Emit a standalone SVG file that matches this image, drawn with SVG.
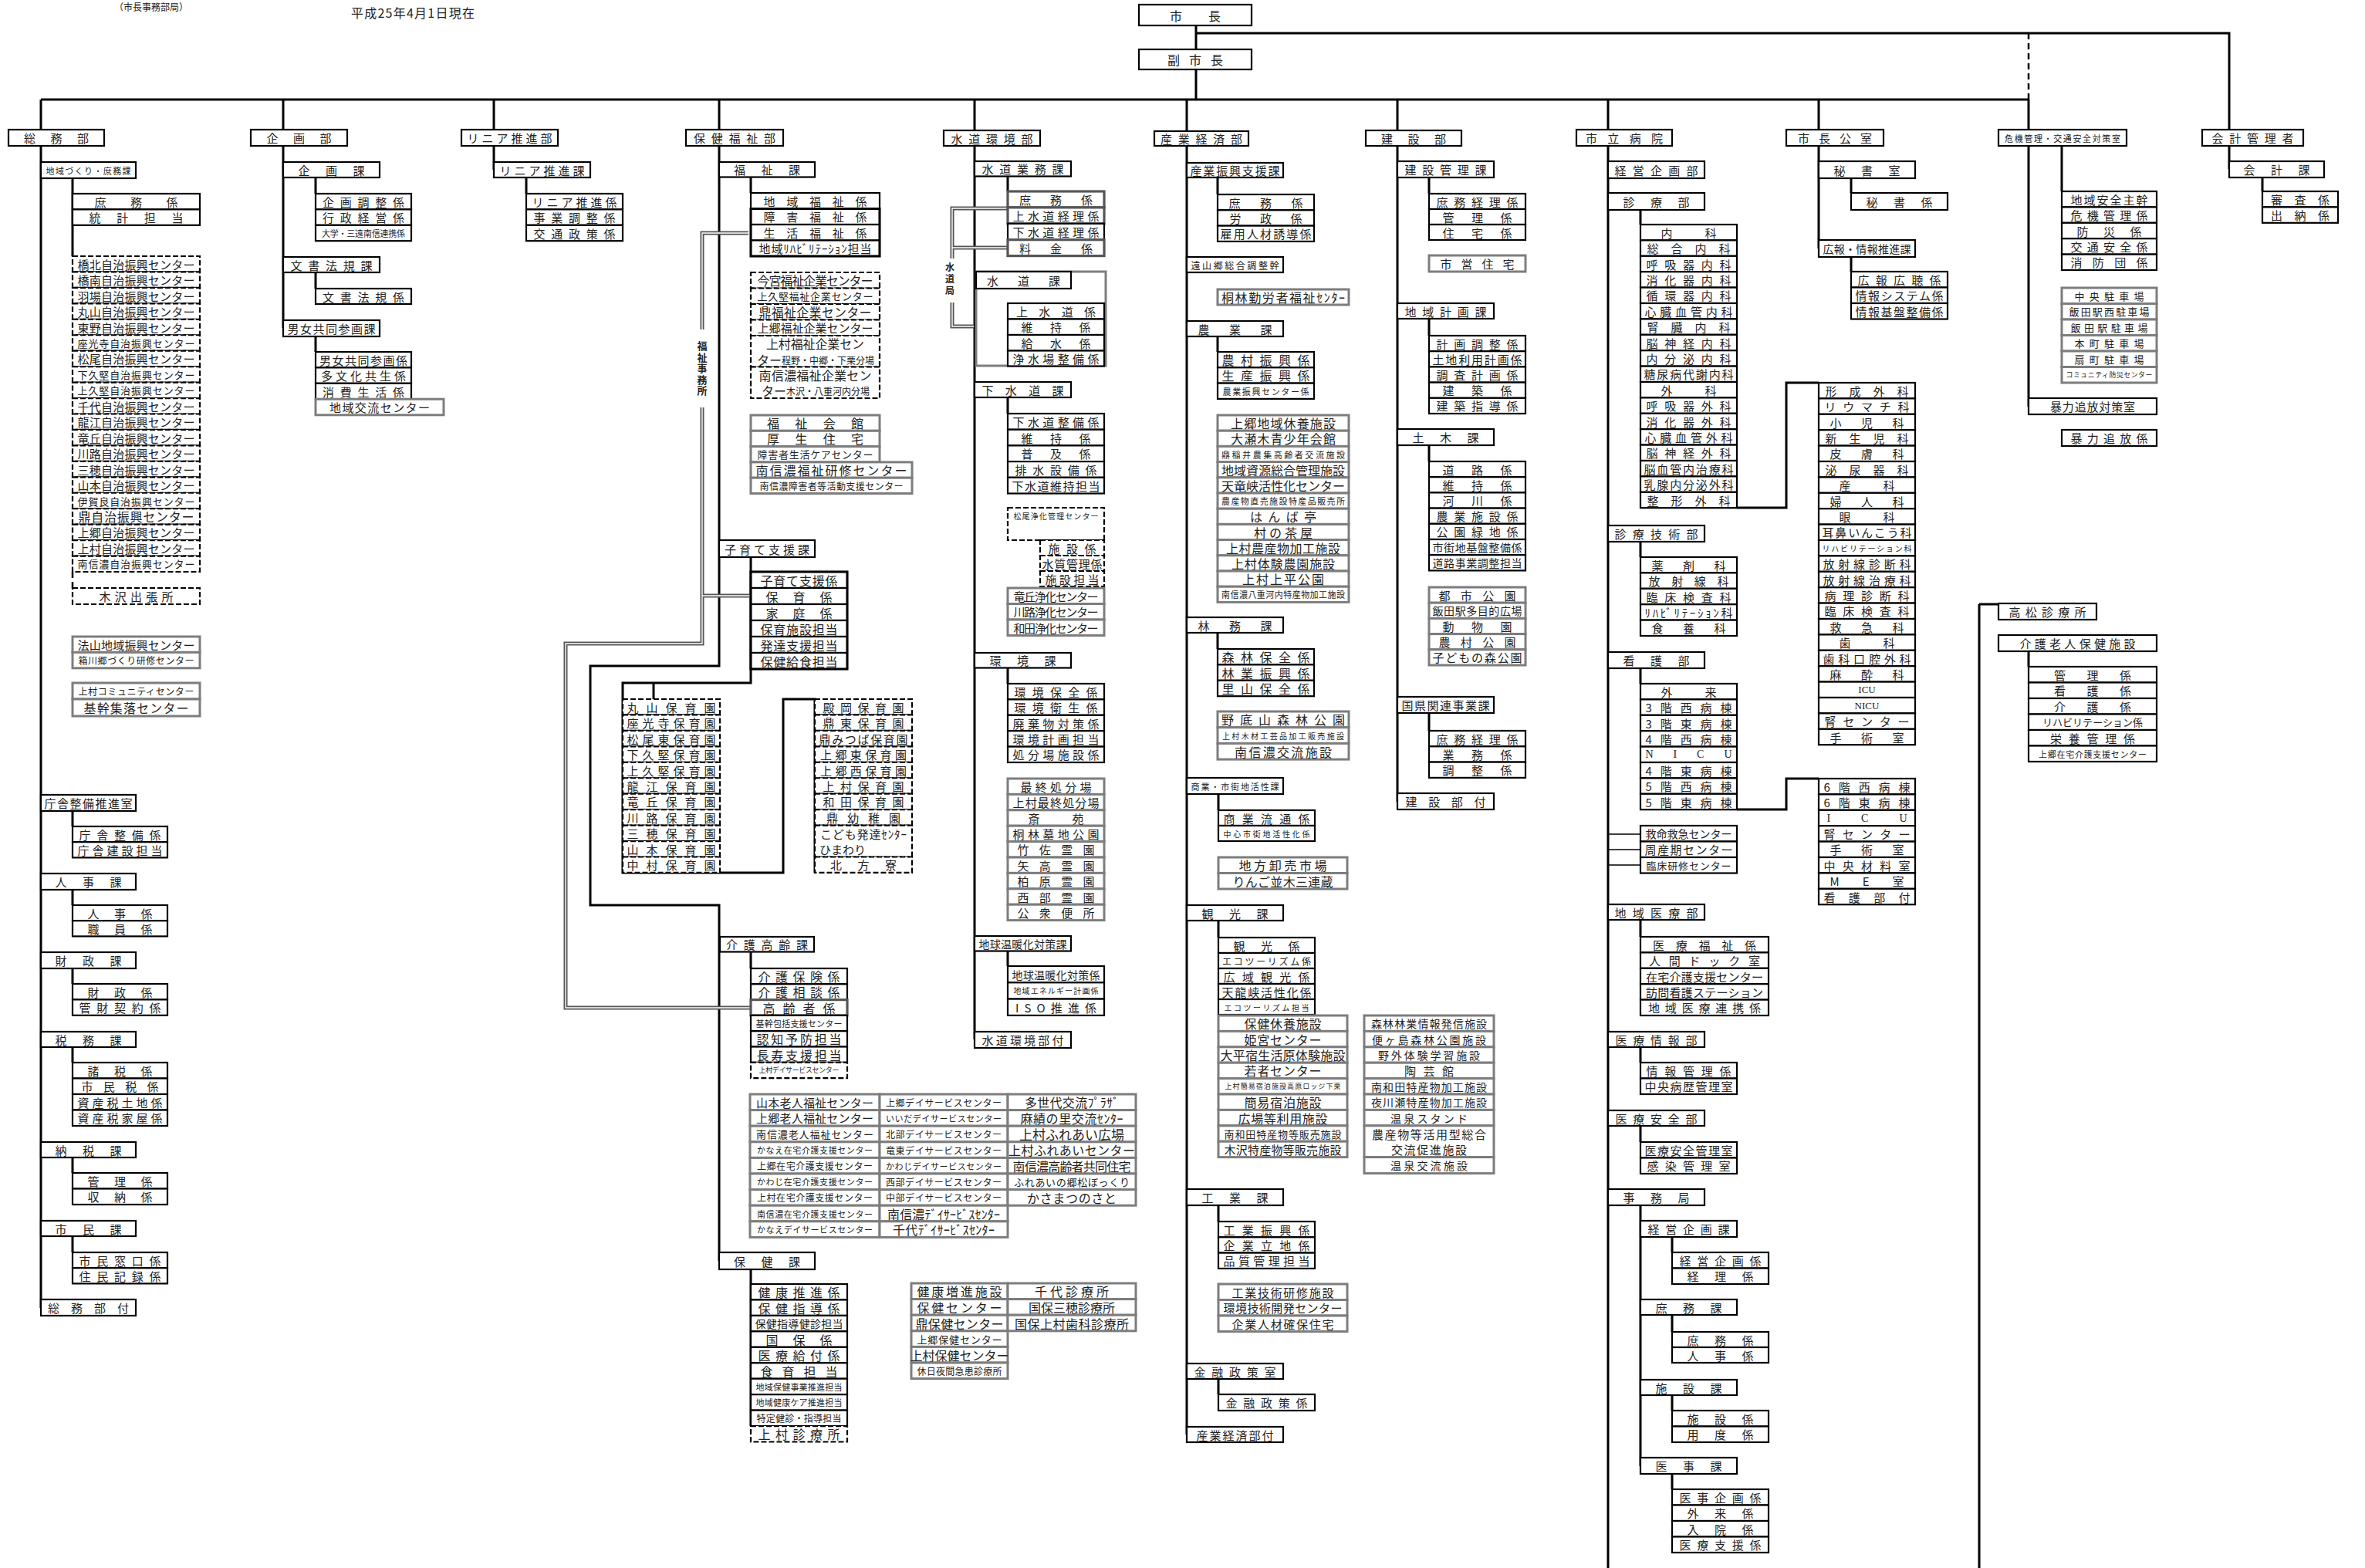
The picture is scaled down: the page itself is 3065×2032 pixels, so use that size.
<svg xmlns="http://www.w3.org/2000/svg" width="3065" height="2032" viewBox="0 0 3065 2032">
<style>
rect{fill:#fff}
.b{stroke:#000;stroke-width:2.2}
.g{stroke:#7d7d7d;stroke-width:3}
.d{stroke:#000;stroke-width:2.2;stroke-dasharray:7 3}
.w{stroke:#555;stroke-width:3.2}
.o{fill:none;stroke:#000;stroke-width:3}
.ln{fill:none;stroke:#000;stroke-width:3}
.tn{fill:none;stroke:#000;stroke-width:1.4}
.dsh{fill:none;stroke:#000;stroke-width:2.5;stroke-dasharray:8 5}
.dbl{fill:none;stroke:#555;stroke-width:5}
.dblw{fill:none;stroke:#fff;stroke-width:1.4}
text{font-family:"Noto Sans CJK JP","Noto Sans",sans-serif;font-size:15px;fill:#222;text-anchor:middle;dominant-baseline:central}
.f17{font-size:17px}.f16{font-size:16px}.f14{font-size:14px}.f13{font-size:13px}.f12{font-size:12px}.f11{font-size:11px}.f10{font-size:10px}.f9{font-size:9px}
.v{writing-mode:vertical-rl;text-orientation:upright;font-size:13px;font-weight:bold;letter-spacing:1.5px}
</style>

<g id="connectors">
<path class="ln" d="M1550 33V64M1550 90V129M53 129H2629M1550 43H2889V168"/>
<path class="dsh" d="M2629 43V129"/>
<path class="ln" d="M53 129V1695M367 129V425M640 129V220M932 129V863H765V1173H932V1634M1263 129V1347M1538 129V1859M1811 129V1039M2084 129V2032M2357 129V322M2629 129V527M2889 189V219M2565 783V2032M2565 783H2590"/>
<path class="ln" d="M94 231V332M94 1051V1071M94 1153V1173M94 1255V1275M94 1357V1377M94 1500V1520M94 1602V1623"/>
<path class="dsh" d="M94 741V762"/>
<path class="ln" d="M409 230V251M409 353V374M409 436V456M682 230V251"/>
<path class="ln" d="M973 229V250M973 722V885H807V1131H1015V906H1056V1131M847 885V906M973 1233V1255M973 1645V1848"/>
<path class="ln" d="M1306 228V248M1306 374V393M1306 515V536M1306 865V886M1306 1232V1252"/>
<path class="ln" d="M1578 230V252M1578 436V456M1578 820V841M1579 1029V1050M1579 1193V1215M1579 1562V1583M1579 1787V1807"/>
<path class="ln" d="M1852 230V251M1852 413V435M1852 577V598M1852 924V947"/>
<path class="ln" d="M2126 272V291M2251 658H2315V496H2357M2126 702V722M2126 866V886M2251 1049H2315V1009H2357M2126 1192V1214M2126 1357V1377M2126 1459V1480M2126 1562V1900M2167 1603V1623M2167 1704V1726M2167 1808V1828M2167 1910V1930"/>
<path class="tn" d="M2084 1081H2126M2084 1101H2126M2084 1121H2126"/>
<path class="ln" d="M2399 231V250M2399 333V352M2672 189V248M2932 230V248M2629 844V864"/>
<path class="dbl" d="M970 302H910V427M910 528V834H733V1306H973M910 772H973"/>
<path class="dblw" d="M970 302H910V427M910 528V834H733V1306H973M910 772H973"/>
<path class="dbl" d="M1306 270H1234V335M1234 392V423H1262M1234 321H1306"/>
<path class="dblw" d="M1306 270H1234V335M1234 392V423H1262M1234 321H1306"/>
</g>

<g id="header">
<text class="f12" x="196" y="8">（市長事務部局）</text>
<text class="f16" x="535" y="16" textLength="160">平成25年4月1日現在</text>
</g>
<g id="mayor"><rect class="b" x="1476" y="6" width="146" height="27"/><text class="f16" x="1549" y="19.5" textLength="66">市長</text></g>
<g id="vice-mayor"><rect class="b" x="1476" y="64" width="146" height="26"/><text class="f16" x="1549" y="77" textLength="72">副市長</text></g>

<!-- 総務部 -->
<g id="somu-bu"><rect class="b" x="11" y="168" width="124" height="21"/><text x="73" y="178.5" textLength="84">総務部</text></g>
<g id="somu-chiiki"><rect class="b" x="53" y="210" width="123" height="21"/><text class="f11" x="114.5" y="220.5" textLength="110">地域づくり・庶務課</text></g>
<g id="somu-chiiki-kakari">
<rect class="b" x="94" y="251" width="165" height="20.4"/><text x="176.5" y="261.2" textLength="108">庶務係</text>
<rect class="b" x="94" y="271.4" width="165" height="20.4"/><text x="176.5" y="281.6" textLength="122">統計担当</text>
</g>
<g id="somu-jichi-centers">
<rect class="d" x="94" y="332" width="165" height="20.45"/><text x="176.5" y="342.2" textLength="152">橋北自治振興センター</text>
<rect class="d" x="94" y="352.45" width="165" height="20.45"/><text x="176.5" y="362.7" textLength="152">橋南自治振興センター</text>
<rect class="d" x="94" y="372.9" width="165" height="20.45"/><text x="176.5" y="383.1" textLength="152">羽場自治振興センター</text>
<rect class="d" x="94" y="393.35" width="165" height="20.45"/><text x="176.5" y="403.6" textLength="152">丸山自治振興センター</text>
<rect class="d" x="94" y="413.8" width="165" height="20.45"/><text x="176.5" y="424" textLength="152">東野自治振興センター</text>
<rect class="d" x="94" y="434.25" width="165" height="20.45"/><text class="f13" x="176.5" y="444.5" textLength="152">座光寺自治振興センター</text>
<rect class="d" x="94" y="454.7" width="165" height="20.45"/><text x="176.5" y="464.9" textLength="152">松尾自治振興センター</text>
<rect class="d" x="94" y="475.15" width="165" height="20.45"/><text class="f13" x="176.5" y="485.4" textLength="152">下久堅自治振興センター</text>
<rect class="d" x="94" y="495.6" width="165" height="20.45"/><text class="f13" x="176.5" y="505.8" textLength="152">上久堅自治振興センター</text>
<rect class="d" x="94" y="516.05" width="165" height="20.45"/><text x="176.5" y="526.3" textLength="152">千代自治振興センター</text>
<rect class="d" x="94" y="536.5" width="165" height="20.45"/><text x="176.5" y="546.7" textLength="152">龍江自治振興センター</text>
<rect class="d" x="94" y="556.95" width="165" height="20.45"/><text x="176.5" y="567.2" textLength="152">竜丘自治振興センター</text>
<rect class="d" x="94" y="577.4" width="165" height="20.45"/><text x="176.5" y="587.6" textLength="152">川路自治振興センター</text>
<rect class="d" x="94" y="597.85" width="165" height="20.45"/><text x="176.5" y="608.1" textLength="152">三穂自治振興センター</text>
<rect class="d" x="94" y="618.3" width="165" height="20.45"/><text x="176.5" y="628.5" textLength="152">山本自治振興センター</text>
<rect class="d" x="94" y="638.75" width="165" height="20.45"/><text class="f13" x="176.5" y="649" textLength="152">伊賀良自治振興センター</text>
<rect class="d" x="94" y="659.2" width="165" height="20.45"/><text class="f16" x="176.5" y="669.4" textLength="150">鼎自治振興センター</text>
<rect class="d" x="94" y="679.65" width="165" height="20.45"/><text x="176.5" y="689.9" textLength="152">上郷自治振興センター</text>
<rect class="d" x="94" y="700.1" width="165" height="20.45"/><text x="176.5" y="710.3" textLength="152">上村自治振興センター</text>
<rect class="d" x="94" y="720.55" width="165" height="20.45"/><text class="f13" x="176.5" y="730.8" textLength="152">南信濃自治振興センター</text>
</g>
<g id="somu-kisawa"><rect class="d" x="94" y="762" width="165" height="21"/><text x="176.5" y="772.5" textLength="96">木沢出張所</text></g>
<g id="somu-hoyama">
<rect class="g" x="94" y="825" width="165" height="20.4"/><text x="176.5" y="835.2" textLength="152">法山地域振興センター</text>
<rect class="g" x="94" y="845.4" width="165" height="20.4"/><text class="f12" x="176.5" y="855.6" textLength="150">箱川郷づくり研修センター</text>
</g>
<g id="somu-kamimura">
<rect class="g" x="94" y="885" width="165" height="21"/><text class="f12" x="176.5" y="895.5" textLength="150">上村コミュニティセンター</text>
<rect class="g" x="94" y="906" width="165" height="22"/><text class="f16" x="176.5" y="917" textLength="136">基幹集落センター</text>
</g>
<g id="somu-chosha"><rect class="b" x="53" y="1030" width="123" height="21"/><text x="114.5" y="1040.5" textLength="114">庁舎整備推進室</text></g>
<g id="somu-chosha-kakari">
<rect class="b" x="94" y="1071" width="123" height="20.2"/><text x="155.5" y="1081.1" textLength="106">庁舎整備係</text>
<rect class="b" x="94" y="1091.2" width="123" height="20.2"/><text x="155.5" y="1101.3" textLength="110">庁舎建設担当</text>
</g>
<g id="somu-jinji"><rect class="b" x="53" y="1132" width="123" height="21"/><text x="114.5" y="1142.5" textLength="86">人事課</text></g>
<g id="somu-jinji-kakari">
<rect class="b" x="94" y="1173" width="123" height="20.2"/><text x="155.5" y="1183.1" textLength="84">人事係</text>
<rect class="b" x="94" y="1193.2" width="123" height="20.2"/><text x="155.5" y="1203.3" textLength="84">職員係</text>
</g>
<g id="somu-zaisei"><rect class="b" x="53" y="1234" width="123" height="21"/><text x="114.5" y="1244.5" textLength="86">財政課</text></g>
<g id="somu-zaisei-kakari">
<rect class="b" x="94" y="1275" width="123" height="20.4"/><text x="155.5" y="1285.2" textLength="84">財政係</text>
<rect class="b" x="94" y="1295.4" width="123" height="20.4"/><text x="155.5" y="1305.6" textLength="106">管財契約係</text>
</g>
<g id="somu-zeimu"><rect class="b" x="53" y="1337" width="123" height="20"/><text x="114.5" y="1347" textLength="86">税務課</text></g>
<g id="somu-zeimu-kakari">
<rect class="b" x="94" y="1377" width="123" height="20.5"/><text x="155.5" y="1387.2" textLength="84">諸税係</text>
<rect class="b" x="94" y="1397.5" width="123" height="20.5"/><text x="155.5" y="1407.7" textLength="100">市民税係</text>
<rect class="b" x="94" y="1418" width="123" height="20.5"/><text x="155.5" y="1428.2" textLength="110">資産税土地係</text>
<rect class="b" x="94" y="1438.5" width="123" height="20.5"/><text x="155.5" y="1448.7" textLength="110">資産税家屋係</text>
</g>
<g id="somu-nozei"><rect class="b" x="53" y="1480" width="123" height="20"/><text x="114.5" y="1490" textLength="86">納税課</text></g>
<g id="somu-nozei-kakari">
<rect class="b" x="94" y="1520" width="123" height="20.5"/><text x="155.5" y="1530.2" textLength="84">管理係</text>
<rect class="b" x="94" y="1540.5" width="123" height="20.5"/><text x="155.5" y="1550.7" textLength="84">収納係</text>
</g>
<g id="somu-shimin"><rect class="b" x="53" y="1582" width="123" height="20"/><text x="114.5" y="1592" textLength="86">市民課</text></g>
<g id="somu-shimin-kakari">
<rect class="b" x="94" y="1623" width="123" height="20.2"/><text x="155.5" y="1633.1" textLength="106">市民窓口係</text>
<rect class="b" x="94" y="1643.2" width="123" height="20.2"/><text x="155.5" y="1653.3" textLength="106">住民記録係</text>
</g>
<g id="somu-fu"><rect class="b" x="53" y="1684" width="123" height="21"/><text x="114.5" y="1694.5" textLength="105">総務部付</text></g>

<!-- 企画部 -->
<g id="kikaku-bu"><rect class="b" x="325" y="168" width="125" height="21"/><text x="387.5" y="178.5" textLength="84">企画部</text></g>
<g id="kikaku-ka"><rect class="b" x="367" y="210" width="125" height="20"/><text x="429.5" y="220" textLength="86">企画課</text></g>
<g id="kikaku-ka-kakari">
<rect class="b" x="409" y="251" width="124" height="20.4"/><text x="471" y="261.2" textLength="106">企画調整係</text>
<rect class="b" x="409" y="271.4" width="124" height="20.4"/><text x="471" y="281.6" textLength="106">行政経営係</text>
<rect class="b" x="409" y="291.8" width="124" height="20.4"/><text class="f11" x="471" y="302" textLength="108">大学・三遠南信連携係</text>
</g>
<g id="bunsho-ka"><rect class="b" x="367" y="333" width="125" height="20"/><text x="429.5" y="343" textLength="106">文書法規課</text></g>
<g id="bunsho-kakari"><rect class="b" x="409" y="374" width="124" height="20"/><text x="471" y="384" textLength="106">文書法規係</text></g>
<g id="danjo-ka"><rect class="b" x="367" y="415" width="125" height="21"/><text x="429.5" y="425.5" textLength="114">男女共同参画課</text></g>
<g id="danjo-kakari">
<rect class="b" x="409" y="456" width="124" height="20.4"/><text x="471" y="466.2" textLength="114">男女共同参画係</text>
<rect class="b" x="409" y="476.4" width="124" height="20.4"/><text x="471" y="486.6" textLength="110">多文化共生係</text>
<rect class="b" x="409" y="496.8" width="124" height="20.4"/><text x="471" y="507" textLength="106">消費生活係</text>
<rect class="g" x="409" y="517.2" width="166" height="20.6"/><text x="492" y="527.5" textLength="130">地域交流センター</text>
</g>

<!-- リニア推進部 -->
<g id="linear-bu"><rect class="b" x="598" y="168" width="125" height="21"/><text x="660.5" y="178.5" textLength="110">リニア推進部</text></g>
<g id="linear-ka"><rect class="b" x="640" y="210" width="125" height="20"/><text x="702.5" y="220" textLength="110">リニア推進課</text></g>
<g id="linear-kakari">
<rect class="b" x="682" y="251" width="125" height="20.4"/><text x="744.5" y="261.2" textLength="110">リニア推進係</text>
<rect class="b" x="682" y="271.4" width="125" height="20.4"/><text x="744.5" y="281.6" textLength="106">事業調整係</text>
<rect class="b" x="682" y="291.8" width="125" height="20.4"/><text x="744.5" y="302" textLength="106">交通政策係</text>
</g>

<!-- 保健福祉部 -->
<g id="hoken-fukushi-bu"><rect class="b" x="889" y="168" width="126" height="21"/><text x="952" y="178.5" textLength="106">保健福祉部</text></g>
<g id="fukushi-ka"><rect class="b" x="932" y="210" width="124" height="19.5"/><text x="994" y="219.7" textLength="86">福祉課</text></g>
<g id="fukushi-kakari">
<rect class="b" x="973" y="250" width="167" height="20.5"/><text x="1056.5" y="260.2" textLength="134">地域福祉係</text>
<rect class="b" x="973" y="270.5" width="167" height="20.5"/><text x="1056.5" y="280.7" textLength="134">障害福祉係</text>
<rect class="b" x="973" y="291" width="167" height="20.5"/><text x="1056.5" y="301.2" textLength="134">生活福祉係</text>
<rect class="b" x="973" y="311.5" width="167" height="20.5"/><text x="1056.5" y="321.7" textLength="146">地域ﾘﾊﾋﾞﾘﾃｰｼｮﾝ担当</text>
<rect class="o" x="973" y="270.5" width="167" height="61.5"/>
</g>
<text class="v" x="910" y="478">福祉事務所</text>
<g id="fukushi-kigyo-centers">
<rect class="d" x="973" y="353" width="167" height="20.5"/><text class="f16" x="1056.5" y="363.2" textLength="150">今宮福祉企業センター</text>
<rect class="d" x="973" y="373.5" width="167" height="20.5"/><text class="f13" x="1056.5" y="383.7" textLength="150">上久堅福祉企業センター</text>
<rect class="d" x="973" y="394" width="167" height="20.5"/><text class="f16" x="1056.5" y="404.2" textLength="146">鼎福祉企業センター</text>
<rect class="d" x="973" y="414.5" width="167" height="20.5"/><text x="1056.5" y="424.7" textLength="150">上郷福祉企業センター</text>
<rect class="d" x="973" y="435" width="167" height="40.5"/><text class="f16" x="1056.5" y="445" textLength="127">上村福祉企業セン</text><text x="1057" y="465.5"><tspan class="f16">ター</tspan><tspan class="f12">程野・中郷・下栗分場</tspan></text>
<rect class="d" x="973" y="475.5" width="167" height="40.5"/><text class="f16" x="1056.5" y="485.5" textLength="146">南信濃福祉企業セン</text><text x="1057" y="506"><tspan class="f16">ター</tspan><tspan class="f12">木沢・八重河内分場</tspan></text>
</g>
<g id="fukushi-facilities">
<rect class="g" x="973" y="538" width="167" height="20.3"/><text class="f16" x="1056.5" y="548.1" textLength="125">福祉会館</text>
<rect class="g" x="973" y="558.3" width="167" height="20.3"/><text class="f16" x="1056.5" y="568.4" textLength="125">厚生住宅</text>
<rect class="g" x="973" y="578.6" width="167" height="20.3"/><text class="f13" x="1056.5" y="588.7" textLength="150">障害者生活ケアセンター</text>
<rect class="g" x="973" y="598.9" width="209" height="20.3"/><text class="f16" x="1077.5" y="609" textLength="196">南信濃福祉研修センター</text>
<rect class="g" x="973" y="619.2" width="209" height="20.3"/><text class="f12" x="1077.5" y="629.3" textLength="186">南信濃障害者等活動支援センター</text>
</g>
<g id="kosodate-ka"><rect class="b" x="932" y="700" width="124" height="22"/><text x="994" y="711" textLength="110">子育て支援課</text></g>
<g id="kosodate-kakari">
<rect class="b" x="973" y="741" width="125" height="21"/><text class="f16" x="1035.5" y="751.5" textLength="100">子育て支援係</text>
<rect class="b" x="973" y="762" width="125" height="21"/><text class="f16" x="1035.5" y="772.5" textLength="86">保育係</text>
<rect class="b" x="973" y="783" width="125" height="21"/><text class="f16" x="1035.5" y="793.5" textLength="86">家庭係</text>
<rect class="b" x="973" y="804" width="125" height="21"/><text class="f16" x="1035.5" y="814.5" textLength="100">保育施設担当</text>
<rect class="b" x="973" y="825" width="125" height="21"/><text class="f16" x="1035.5" y="835.5" textLength="100">発達支援担当</text>
<rect class="b" x="973" y="846" width="125" height="21"/><text class="f16" x="1035.5" y="856.5" textLength="100">保健給食担当</text>
<rect class="o" x="973" y="741" width="125" height="126"/>
</g>
<g id="nursery-1">
<rect class="d" x="807" y="906" width="126" height="20.45"/><text x="870" y="916.2" textLength="115">丸山保育園</text>
<rect class="d" x="807" y="926.45" width="126" height="20.45"/><text x="870" y="936.7" textLength="115">座光寺保育園</text>
<rect class="d" x="807" y="946.9" width="126" height="20.45"/><text x="870" y="957.1" textLength="115">松尾東保育園</text>
<rect class="d" x="807" y="967.35" width="126" height="20.45"/><text x="870" y="977.6" textLength="115">下久堅保育園</text>
<rect class="d" x="807" y="987.8" width="126" height="20.45"/><text x="870" y="998" textLength="115">上久堅保育園</text>
<rect class="d" x="807" y="1008.25" width="126" height="20.45"/><text x="870" y="1018.5" textLength="115">龍江保育園</text>
<rect class="d" x="807" y="1028.7" width="126" height="20.45"/><text x="870" y="1038.9" textLength="115">竜丘保育園</text>
<rect class="d" x="807" y="1049.15" width="126" height="20.45"/><text x="870" y="1059.4" textLength="115">川路保育園</text>
<rect class="d" x="807" y="1069.6" width="126" height="20.45"/><text x="870" y="1079.8" textLength="115">三穂保育園</text>
<rect class="d" x="807" y="1090.05" width="126" height="20.45"/><text x="870" y="1100.3" textLength="115">山本保育園</text>
<rect class="d" x="807" y="1110.5" width="126" height="20.45"/><text x="870" y="1120.7" textLength="115">中村保育園</text>
</g>
<g id="nursery-2">
<rect class="d" x="1056" y="906" width="126" height="20.45"/><text x="1119" y="916.2" textLength="105">殿岡保育園</text>
<rect class="d" x="1056" y="926.45" width="126" height="20.45"/><text x="1119" y="936.7" textLength="105">鼎東保育園</text>
<rect class="d" x="1056" y="946.9" width="126" height="20.45"/><text x="1119" y="957.1" textLength="115">鼎みつば保育園</text>
<rect class="d" x="1056" y="967.35" width="126" height="20.45"/><text x="1119" y="977.6" textLength="112">上郷東保育園</text>
<rect class="d" x="1056" y="987.8" width="126" height="20.45"/><text x="1119" y="998" textLength="112">上郷西保育園</text>
<rect class="d" x="1056" y="1008.25" width="126" height="20.45"/><text x="1119" y="1018.5" textLength="105">上村保育園</text>
<rect class="d" x="1056" y="1028.7" width="126" height="20.45"/><text x="1119" y="1038.9" textLength="105">和田保育園</text>
<rect class="d" x="1056" y="1049.15" width="126" height="20.45"/><text x="1119" y="1059.4" textLength="96">鼎幼稚園</text>
<rect class="d" x="1056" y="1069.6" width="126" height="40.9"/><text x="1119" y="1080" textLength="112">こども発達ｾﾝﾀｰ</text><text x="1062" y="1100.5" style="text-anchor:start">ひまわり</text>
<rect class="d" x="1056" y="1110.5" width="126" height="20.45"/><text x="1119" y="1120.7" textLength="86">北方寮</text>
</g>
<g id="kaigo-ka"><rect class="b" x="933" y="1214" width="122" height="19.5"/><text x="994" y="1223.7" textLength="106">介護高齢課</text></g>
<g id="kaigo-kakari">
<rect class="b" x="973" y="1255" width="125" height="20.3"/><text class="f16" x="1035.5" y="1265.1" textLength="106">介護保険係</text>
<rect class="b" x="973" y="1275.3" width="125" height="20.3"/><text class="f16" x="1035.5" y="1285.4" textLength="106">介護相談係</text>
<rect class="w" x="973" y="1295.6" width="125" height="20.3"/><text class="f16" x="1035.5" y="1305.7" textLength="94">高齢者係</text>
<rect class="b" x="973" y="1315.9" width="125" height="20.3"/><text class="f11" x="1035.5" y="1326" textLength="112">基幹包括支援センター</text>
<rect class="b" x="973" y="1336.2" width="125" height="20.3"/><text class="f16" x="1035.5" y="1346.3" textLength="110">認知予防担当</text>
<rect class="b" x="973" y="1356.5" width="125" height="20.3"/><text class="f16" x="1035.5" y="1366.6" textLength="110">長寿支援担当</text>
<rect class="d" x="973" y="1376.8" width="125" height="20.3"/><text class="f9" x="1035.5" y="1386.9" textLength="104">上村デイサービスセンター</text>
</g>
<g id="kaigo-facilities-a">
<rect class="g" x="972" y="1418" width="168" height="20.6"/><text x="1056" y="1428.3" textLength="152">山本老人福祉センター</text>
<rect class="g" x="972" y="1438.6" width="168" height="20.6"/><text x="1056" y="1448.9" textLength="152">上郷老人福祉センター</text>
<rect class="g" x="972" y="1459.2" width="168" height="20.6"/><text class="f13" x="1056" y="1469.5" textLength="152">南信濃老人福祉センター</text>
<rect class="g" x="972" y="1479.8" width="168" height="20.6"/><text class="f11" x="1056" y="1490.1" textLength="150">かなえ在宅介護支援センター</text>
<rect class="g" x="972" y="1500.4" width="168" height="20.6"/><text class="f12" x="1056" y="1510.7" textLength="150">上郷在宅介護支援センター</text>
<rect class="g" x="972" y="1521" width="168" height="20.6"/><text class="f11" x="1056" y="1531.3" textLength="150">かわじ在宅介護支援センター</text>
<rect class="g" x="972" y="1541.6" width="168" height="20.6"/><text class="f12" x="1056" y="1551.9" textLength="150">上村在宅介護支援センター</text>
<rect class="g" x="972" y="1562.2" width="168" height="20.6"/><text class="f11" x="1056" y="1572.5" textLength="150">南信濃在宅介護支援センター</text>
<rect class="g" x="972" y="1582.8" width="168" height="20.6"/><text class="f11" x="1056" y="1593.1" textLength="150">かなえデイサービスセンター</text>
</g>
<g id="kaigo-facilities-b">
<rect class="g" x="1140" y="1418" width="166" height="20.6"/><text class="f12" x="1223" y="1428.3" textLength="150">上郷デイサービスセンター</text>
<rect class="g" x="1140" y="1438.6" width="166" height="20.6"/><text class="f11" x="1223" y="1448.9" textLength="150">いいだデイサービスセンター</text>
<rect class="g" x="1140" y="1459.2" width="166" height="20.6"/><text class="f12" x="1223" y="1469.5" textLength="150">北部デイサービスセンター</text>
<rect class="g" x="1140" y="1479.8" width="166" height="20.6"/><text class="f12" x="1223" y="1490.1" textLength="150">竜東デイサービスセンター</text>
<rect class="g" x="1140" y="1500.4" width="166" height="20.6"/><text class="f11" x="1223" y="1510.7" textLength="150">かわじデイサービスセンター</text>
<rect class="g" x="1140" y="1521" width="166" height="20.6"/><text class="f12" x="1223" y="1531.3" textLength="150">西部デイサービスセンター</text>
<rect class="g" x="1140" y="1541.6" width="166" height="20.6"/><text class="f12" x="1223" y="1551.9" textLength="150">中部デイサービスセンター</text>
<rect class="g" x="1140" y="1562.2" width="166" height="20.6"/><text class="f16" x="1223" y="1572.5" textLength="146">南信濃ﾃﾞｲｻｰﾋﾞｽｾﾝﾀｰ</text>
<rect class="g" x="1140" y="1582.8" width="166" height="20.6"/><text class="f16" x="1223" y="1593.1" textLength="132">千代ﾃﾞｲｻｰﾋﾞｽｾﾝﾀｰ</text>
</g>
<g id="kaigo-facilities-c">
<rect class="g" x="1306" y="1418" width="166" height="20.6"/><text class="f16" x="1389" y="1428.3" textLength="122">多世代交流ﾌﾟﾗｻﾞ</text>
<rect class="g" x="1306" y="1438.6" width="166" height="20.6"/><text class="f16" x="1389" y="1448.9" textLength="133">麻績の里交流ｾﾝﾀｰ</text>
<rect class="g" x="1306" y="1459.2" width="166" height="20.6"/><text class="f17" x="1389" y="1469.5" textLength="136">上村ふれあい広場</text>
<rect class="g" x="1306" y="1479.8" width="166" height="20.6"/><text class="f16" x="1389" y="1490.1" textLength="164">上村ふれあいセンター</text>
<rect class="g" x="1306" y="1500.4" width="166" height="20.6"/><text class="f16" x="1389" y="1510.7" textLength="153">南信濃高齢者共同住宅</text>
<rect class="g" x="1306" y="1521" width="166" height="20.6"/><text class="f13" x="1389" y="1531.3" textLength="150">ふれあいの郷松ぼっくり</text>
<rect class="g" x="1306" y="1541.6" width="166" height="20.6"/><text class="f16" x="1389" y="1551.9" textLength="116">かさまつのさと</text>
</g>
<g id="hoken-ka"><rect class="b" x="932" y="1623" width="124" height="22"/><text x="994" y="1634" textLength="86">保健課</text></g>
<g id="hoken-kakari">
<rect class="b" x="973" y="1664" width="125" height="20.45"/><text class="f16" x="1035.5" y="1674.2" textLength="106">健康推進係</text>
<rect class="b" x="973" y="1684.45" width="125" height="20.45"/><text class="f16" x="1035.5" y="1694.7" textLength="106">保健指導係</text>
<rect class="b" x="973" y="1704.9" width="125" height="20.45"/><text class="f14" x="1035.5" y="1715.1" textLength="114">保健指導健診担当</text>
<rect class="b" x="973" y="1725.35" width="125" height="20.45"/><text class="f16" x="1035.5" y="1735.6" textLength="86">国保係</text>
<rect class="b" x="973" y="1745.8" width="125" height="20.45"/><text class="f16" x="1035.5" y="1756" textLength="106">医療給付係</text>
<rect class="b" x="973" y="1766.25" width="125" height="20.45"/><text class="f16" x="1035.5" y="1776.5" textLength="100">食育担当</text>
<rect class="b" x="973" y="1786.7" width="125" height="20.45"/><text class="f11" x="1035.5" y="1796.9" textLength="112">地域保健事業推進担当</text>
<rect class="b" x="973" y="1807.15" width="125" height="20.45"/><text class="f11" x="1035.5" y="1817.4" textLength="112">地域健康ケア推進担当</text>
<rect class="b" x="973" y="1827.6" width="125" height="20.45"/><text class="f12" x="1035.5" y="1837.8" textLength="110">特定健診・指導担当</text>
<rect class="d" x="973" y="1848.05" width="125" height="20.45"/><text class="f16" x="1035.5" y="1858.3" textLength="106">上村診療所</text>
</g>
<g id="hoken-facilities">
<rect class="g" x="1181" y="1663" width="125" height="20.6"/><text class="f16" x="1243.5" y="1673.3" textLength="110">健康増進施設</text>
<rect class="g" x="1181" y="1683.6" width="125" height="20.6"/><text class="f16" x="1243.5" y="1693.9" textLength="110">保健センター</text>
<rect class="g" x="1181" y="1704.2" width="125" height="20.6"/><text class="f16" x="1243.5" y="1714.5" textLength="114">鼎保健センター</text>
<rect class="g" x="1181" y="1724.8" width="125" height="20.6"/><text class="f13" x="1243.5" y="1735.1" textLength="110">上郷保健センター</text>
<rect class="g" x="1181" y="1745.4" width="125" height="20.6"/><text class="f16" x="1243.5" y="1755.7" textLength="128">上村保健センター</text>
<rect class="g" x="1181" y="1766" width="125" height="20.6"/><text class="f12" x="1243.5" y="1776.3" textLength="110">休日夜間急患診療所</text>
<rect class="g" x="1306" y="1663" width="166" height="20.6"/><text class="f16" x="1389" y="1673.3" textLength="96">千代診療所</text>
<rect class="g" x="1306" y="1683.6" width="166" height="20.6"/><text class="f16" x="1389" y="1693.9" textLength="112">国保三穂診療所</text>
<rect class="g" x="1306" y="1704.2" width="166" height="20.6"/><text class="f16" x="1389" y="1714.5" textLength="148">国保上村歯科診療所</text>
</g>

<!-- 水道環境部 -->
<g id="suido-bu"><rect class="b" x="1223" y="169" width="125" height="20"/><text x="1285.5" y="179" textLength="106">水道環境部</text></g>
<g id="suido-gyomu-ka"><rect class="b" x="1263" y="209" width="125" height="19.5"/><text x="1325.5" y="218.7" textLength="106">水道業務課</text></g>
<g id="suido-gyomu-kakari">
<rect class="w" x="1306" y="248" width="125" height="20.9"/><text x="1368.5" y="258.4" textLength="95">庶務係</text>
<rect class="w" x="1306" y="268.9" width="125" height="20.9"/><text x="1368.5" y="279.3" textLength="112">上水道経理係</text>
<rect class="b" x="1306" y="289.8" width="125" height="20.9"/><text x="1368.5" y="300.2" textLength="112">下水道経理係</text>
<rect class="w" x="1306" y="310.7" width="125" height="20.9"/><text x="1368.5" y="321.1" textLength="95">料金係</text>
</g>
<text class="v" x="1231" y="363" style="font-size:12px;letter-spacing:3px">水道局</text>
<g id="suido-ka">
<rect class="g" x="1265" y="352" width="168" height="122"/>
<rect class="b" x="1265" y="352" width="123" height="22"/><text x="1326.5" y="363" textLength="95">水道課</text>
<rect class="b" x="1306" y="393" width="125" height="20.5"/><text x="1368.5" y="403.2" textLength="103">上水道係</text>
<rect class="b" x="1306" y="413.5" width="125" height="20.5"/><text x="1368.5" y="423.7" textLength="90">維持係</text>
<rect class="b" x="1306" y="434" width="125" height="20.5"/><text x="1368.5" y="444.2" textLength="90">給水係</text>
<rect class="b" x="1306" y="454.5" width="125" height="20"/><text x="1368.5" y="464.5" textLength="112">浄水場整備係</text>
</g>
<g id="gesuido-ka"><rect class="b" x="1263" y="495" width="125" height="20"/><text x="1325.5" y="505" textLength="106">下水道課</text></g>
<g id="gesuido-kakari">
<rect class="b" x="1306" y="536" width="125" height="20.7"/><text x="1368.5" y="546.3" textLength="112">下水道整備係</text>
<rect class="b" x="1306" y="556.7" width="125" height="20.7"/><text x="1368.5" y="567" textLength="90">維持係</text>
<rect class="b" x="1306" y="577.4" width="125" height="20.7"/><text x="1368.5" y="587.7" textLength="90">普及係</text>
<rect class="b" x="1306" y="598.1" width="125" height="20.7"/><text x="1368.5" y="608.4" textLength="106">排水設備係</text>
<rect class="b" x="1306" y="618.8" width="125" height="20.7"/><text x="1368.5" y="629.1" textLength="114">下水道維持担当</text>
</g>
<g id="matsuo-center">
<rect class="d" x="1306" y="658" width="125" height="42"/><text class="f10" x="1368.5" y="668" textLength="110">松尾浄化管理センター</text>
<rect class="d" x="1348" y="700" width="83" height="20"/><text x="1389.5" y="710" textLength="62">施設係</text>
<rect class="d" x="1348" y="720" width="83" height="20"/><text x="1389.5" y="730" textLength="78">水質管理係</text>
<rect class="d" x="1348" y="740" width="83" height="20"/><text x="1389.5" y="750" textLength="70">施設担当</text>
</g>
<g id="jouka-centers">
<rect class="g" x="1306" y="762" width="125" height="20.5"/><text x="1368.5" y="772.2" textLength="110">竜丘浄化センター</text>
<rect class="g" x="1306" y="782.5" width="125" height="20.5"/><text x="1368.5" y="792.7" textLength="110">川路浄化センター</text>
<rect class="g" x="1306" y="803" width="125" height="20.5"/><text x="1368.5" y="813.2" textLength="110">和田浄化センター</text>
</g>
<g id="kankyo-ka"><rect class="b" x="1263" y="846" width="125" height="19.5"/><text x="1325.5" y="855.7" textLength="86">環境課</text></g>
<g id="kankyo-kakari">
<rect class="b" x="1306" y="886" width="125" height="20.4"/><text x="1368.5" y="896.2" textLength="108">環境保全係</text>
<rect class="b" x="1306" y="906.4" width="125" height="20.4"/><text x="1368.5" y="916.6" textLength="108">環境衛生係</text>
<rect class="b" x="1306" y="926.8" width="125" height="20.4"/><text x="1368.5" y="937" textLength="112">廃棄物対策係</text>
<rect class="b" x="1306" y="947.2" width="125" height="20.4"/><text x="1368.5" y="957.4" textLength="112">環境計画担当</text>
<rect class="b" x="1306" y="967.6" width="125" height="20.4"/><text x="1368.5" y="977.8" textLength="112">処分場施設係</text>
</g>
<g id="kankyo-facilities">
<rect class="g" x="1306" y="1009" width="125" height="20.4"/><text x="1368.5" y="1019.2" textLength="92">最終処分場</text>
<rect class="g" x="1306" y="1029.4" width="125" height="20.4"/><text x="1368.5" y="1039.6" textLength="112">上村最終処分場</text>
<rect class="g" x="1306" y="1049.8" width="125" height="20.4"/><text x="1368.5" y="1060" textLength="72">斎苑</text>
<rect class="g" x="1306" y="1070.2" width="125" height="20.4"/><text x="1368.5" y="1080.4" textLength="112">桐林墓地公園</text>
<rect class="g" x="1306" y="1090.6" width="125" height="20.4"/><text x="1368.5" y="1100.8" textLength="100">竹佐霊園</text>
<rect class="g" x="1306" y="1111" width="125" height="20.4"/><text x="1368.5" y="1121.2" textLength="100">矢高霊園</text>
<rect class="g" x="1306" y="1131.4" width="125" height="20.4"/><text x="1368.5" y="1141.6" textLength="100">柏原霊園</text>
<rect class="g" x="1306" y="1151.8" width="125" height="20.4"/><text x="1368.5" y="1162" textLength="100">西部霊園</text>
<rect class="g" x="1306" y="1172.2" width="125" height="20.4"/><text x="1368.5" y="1182.4" textLength="100">公衆便所</text>
</g>
<g id="ondanka-ka"><rect class="b" x="1263" y="1213" width="125" height="19.5"/><text class="f14" x="1325.5" y="1222.7" textLength="114">地球温暖化対策課</text></g>
<g id="ondanka-kakari">
<rect class="b" x="1306" y="1252" width="125" height="21.3"/><text class="f14" x="1368.5" y="1262.6" textLength="114">地球温暖化対策係</text>
<rect class="b" x="1306" y="1273.3" width="125" height="21.3"/><text class="f10" x="1368.5" y="1283.9" textLength="110">地域エネルギー計画係</text>
<rect class="b" x="1306" y="1294.6" width="125" height="21.3"/><text x="1368.5" y="1305.2" textLength="105">ISO推進係</text>
</g>
<g id="suido-fu"><rect class="b" x="1263" y="1337" width="125" height="21"/><text x="1325.5" y="1347.5" textLength="106">水道環境部付</text></g>

<!-- 産業経済部 -->
<g id="sangyo-bu"><rect class="b" x="1496" y="170" width="122" height="19"/><text x="1557" y="179.5" textLength="106">産業経済部</text></g>
<g id="shinko-ka"><rect class="b" x="1538" y="211" width="125" height="19"/><text x="1600.5" y="220.5" textLength="116">産業振興支援課</text></g>
<g id="shinko-kakari">
<rect class="b" x="1578" y="252" width="125" height="20.3"/><text x="1640.5" y="262.1" textLength="96">庶務係</text>
<rect class="b" x="1578" y="272.3" width="125" height="20.3"/><text x="1640.5" y="282.4" textLength="94">労政係</text>
<rect class="b" x="1578" y="292.6" width="125" height="20.3"/><text x="1640.5" y="302.7" textLength="118">雇用人材誘導係</text>
</g>
<g id="toyama-chosei"><rect class="b" x="1538" y="333" width="125" height="20"/><text class="f12" x="1600.5" y="343" textLength="114">遠山郷総合調整幹</text></g>
<g id="kiribayashi-center"><rect class="g" x="1578" y="375" width="170" height="20"/><text class="f16" x="1663" y="385" textLength="160">桐林勤労者福祉ｾﾝﾀｰ</text></g>
<g id="nogyo-ka"><rect class="b" x="1538" y="416" width="125" height="20"/><text x="1600.5" y="426" textLength="96">農業課</text></g>
<g id="nogyo-kakari">
<rect class="b" x="1578" y="456" width="125" height="20.3"/><text class="f16" x="1640.5" y="466.1" textLength="114">農村振興係</text>
<rect class="b" x="1578" y="476.3" width="125" height="20.3"/><text class="f16" x="1640.5" y="486.4" textLength="114">生産振興係</text>
<rect class="b" x="1578" y="496.6" width="125" height="20.3"/><text class="f11" x="1640.5" y="506.7" textLength="112">農業振興センター係</text>
</g>
<g id="nogyo-facilities">
<rect class="g" x="1578" y="538" width="170" height="20.2"/><text class="f16" x="1663" y="548.1" textLength="136">上郷地域休養施設</text>
<rect class="g" x="1578" y="558.2" width="170" height="20.2"/><text class="f16" x="1663" y="568.3" textLength="136">大瀬木青少年会館</text>
<rect class="g" x="1578" y="578.4" width="170" height="20.2"/><text class="f11" x="1663" y="588.5" textLength="160">鼎稲井農集高齢者交流施設</text>
<rect class="g" x="1578" y="598.6" width="170" height="20.2"/><text class="f16" x="1663" y="608.7" textLength="160">地域資源総合管理施設</text>
<rect class="g" x="1578" y="618.8" width="170" height="20.2"/><text class="f16" x="1663" y="628.9" textLength="160">天竜峡活性化センター</text>
<rect class="g" x="1578" y="639" width="170" height="20.2"/><text class="f11" x="1663" y="649.1" textLength="160">農産物直売施設特産品販売所</text>
<rect class="g" x="1578" y="659.2" width="170" height="20.2"/><text class="f16" x="1663" y="669.3" textLength="86">はんば亭</text>
<rect class="g" x="1578" y="679.4" width="170" height="20.2"/><text class="f16" x="1663" y="689.5" textLength="76">村の茶屋</text>
<rect class="g" x="1578" y="699.6" width="170" height="20.2"/><text class="f16" x="1663" y="709.7" textLength="148">上村農産物加工施設</text>
<rect class="g" x="1578" y="719.8" width="170" height="20.2"/><text class="f16" x="1663" y="729.9" textLength="134">上村体験農園施設</text>
<rect class="g" x="1578" y="740" width="170" height="20.2"/><text class="f16" x="1663" y="750.1" textLength="106">上村上平公園</text>
<rect class="g" x="1578" y="760.2" width="170" height="20.2"/><text class="f11" x="1663" y="770.3" textLength="160">南信濃八重河内特産物加工施設</text>
</g>
<g id="rinmu-ka"><rect class="b" x="1538" y="800" width="125" height="20"/><text x="1600.5" y="810" textLength="96">林務課</text></g>
<g id="rinmu-kakari">
<rect class="b" x="1578" y="841" width="125" height="20.4"/><text class="f16" x="1640.5" y="851.2" textLength="114">森林保全係</text>
<rect class="b" x="1578" y="861.4" width="125" height="20.4"/><text class="f16" x="1640.5" y="871.6" textLength="114">林業振興係</text>
<rect class="b" x="1578" y="881.8" width="125" height="20.4"/><text class="f16" x="1640.5" y="892" textLength="114">里山保全係</text>
</g>
<g id="rinmu-facilities">
<rect class="g" x="1578" y="922" width="170" height="20.7"/><text class="f16" x="1663" y="932.3" textLength="160">野底山森林公園</text>
<rect class="g" x="1578" y="942.7" width="170" height="20.7"/><text class="f10" x="1663" y="953" textLength="158">上村木材工芸品加工販売施設</text>
<rect class="g" x="1578" y="963.4" width="170" height="20.7"/><text class="f16" x="1663" y="973.7" textLength="126">南信濃交流施設</text>
</g>
<g id="shogyo-ka"><rect class="b" x="1538" y="1008" width="125" height="21"/><text class="f11" x="1600.5" y="1018.5" textLength="114">商業・市街地活性課</text></g>
<g id="shogyo-kakari">
<rect class="b" x="1579" y="1050" width="125" height="20"/><text x="1641.5" y="1060" textLength="112">商業流通係</text>
<rect class="b" x="1579" y="1070" width="125" height="20"/><text class="f10" x="1641.5" y="1080" textLength="112">中心市街地活性化係</text>
</g>
<g id="shogyo-facilities">
<rect class="g" x="1579" y="1111" width="167" height="20.5"/><text class="f16" x="1662.5" y="1121.2" textLength="114">地方卸売市場</text>
<rect class="g" x="1579" y="1131.5" width="167" height="20.5"/><text class="f16" x="1662.5" y="1141.7" textLength="130">りんご並木三連蔵</text>
</g>
<g id="kanko-ka"><rect class="b" x="1538" y="1173" width="125" height="20"/><text x="1600.5" y="1183" textLength="86">観光課</text></g>
<g id="kanko-kakari">
<rect class="b" x="1579" y="1215" width="125" height="20"/><text x="1641.5" y="1225" textLength="86">観光係</text>
<rect class="b" x="1579" y="1235" width="125" height="20"/><text class="f12" x="1641.5" y="1245" textLength="115">エコツーリズム係</text>
<rect class="b" x="1579" y="1255" width="125" height="20"/><text x="1641.5" y="1265" textLength="112">広域観光係</text>
<rect class="b" x="1579" y="1275" width="125" height="20"/><text x="1641.5" y="1285" textLength="116">天龍峡活性化係</text>
<rect class="b" x="1579" y="1295" width="125" height="20"/><text class="f10" x="1641.5" y="1305" textLength="110">エコツーリズム担当</text>
</g>
<g id="kanko-facilities">
<rect class="g" x="1579" y="1316" width="167" height="20.4"/><text class="f16" x="1662.5" y="1326.2" textLength="100">保健休養施設</text>
<rect class="g" x="1579" y="1336.4" width="167" height="20.4"/><text class="f16" x="1662.5" y="1346.6" textLength="100">姫宮センター</text>
<rect class="g" x="1579" y="1356.8" width="167" height="20.4"/><text class="f16" x="1662.5" y="1367" textLength="162">大平宿生活原体験施設</text>
<rect class="g" x="1579" y="1377.2" width="167" height="20.4"/><text class="f16" x="1662.5" y="1387.4" textLength="100">若者センター</text>
<rect class="g" x="1579" y="1397.6" width="167" height="20.4"/><text class="f9" x="1662.5" y="1407.8" textLength="150">上村簡易宿泊施設高原ロッジ下栗</text>
<rect class="g" x="1579" y="1418" width="167" height="20.4"/><text class="f16" x="1662.5" y="1428.2" textLength="100">簡易宿泊施設</text>
<rect class="g" x="1579" y="1438.4" width="167" height="20.4"/><text class="f16" x="1662.5" y="1448.6" textLength="116">広場等利用施設</text>
<rect class="g" x="1579" y="1458.8" width="167" height="20.4"/><text class="f13" x="1662.5" y="1469" textLength="152">南和田特産物等販売施設</text>
<rect class="g" x="1579" y="1479.2" width="167" height="20.4"/><text x="1662.5" y="1489.4" textLength="152">木沢特産物等販売施設</text>
</g>
<g id="kanko-facilities-2">
<rect class="g" x="1768" y="1316" width="168" height="20.4"/><text class="f14" x="1852" y="1326.2" textLength="150">森林林業情報発信施設</text>
<rect class="g" x="1768" y="1336.4" width="168" height="20.4"/><text class="f14" x="1852" y="1346.6" textLength="148">便ヶ島森林公園施設</text>
<rect class="g" x="1768" y="1356.8" width="168" height="20.4"/><text class="f14" x="1852" y="1367" textLength="132">野外体験学習施設</text>
<rect class="g" x="1768" y="1377.2" width="168" height="20.4"/><text x="1852" y="1387.4" textLength="64">陶芸館</text>
<rect class="g" x="1768" y="1397.6" width="168" height="20.4"/><text class="f14" x="1852" y="1407.8" textLength="150">南和田特産物加工施設</text>
<rect class="g" x="1768" y="1418" width="168" height="20.4"/><text class="f14" x="1852" y="1428.2" textLength="150">夜川瀬特産物加工施設</text>
<rect class="g" x="1768" y="1438.4" width="168" height="20.4"/><text class="f14" x="1852" y="1448.6" textLength="100">温泉スタンド</text>
<rect class="g" x="1768" y="1458.8" width="168" height="40.8"/><text x="1852" y="1469" textLength="148">農産物等活用型総合</text><text x="1852" y="1489.4" textLength="98">交流促進施設</text>
<rect class="g" x="1768" y="1499.6" width="168" height="21"/><text class="f14" x="1852" y="1510.1" textLength="100">温泉交流施設</text>
</g>
<g id="kogyo-ka"><rect class="b" x="1538" y="1541" width="125" height="21"/><text x="1600.5" y="1551.5" textLength="86">工業課</text></g>
<g id="kogyo-kakari">
<rect class="b" x="1579" y="1583" width="125" height="20.3"/><text x="1641.5" y="1593.1" textLength="112">工業振興係</text>
<rect class="b" x="1579" y="1603.3" width="125" height="20.3"/><text x="1641.5" y="1613.4" textLength="112">企業立地係</text>
<rect class="b" x="1579" y="1623.6" width="125" height="20.3"/><text x="1641.5" y="1633.7" textLength="112">品質管理担当</text>
</g>
<g id="kogyo-facilities">
<rect class="g" x="1579" y="1664" width="167" height="20.5"/><text x="1662.5" y="1674.2" textLength="132">工業技術研修施設</text>
<rect class="g" x="1579" y="1684.5" width="167" height="20.5"/><text x="1662.5" y="1694.7" textLength="154">環境技術開発センター</text>
<rect class="g" x="1579" y="1705" width="167" height="20.5"/><text x="1662.5" y="1715.2" textLength="132">企業人材確保住宅</text>
</g>
<g id="kinyu-shitsu"><rect class="b" x="1538" y="1767" width="125" height="20"/><text x="1600.5" y="1777" textLength="106">金融政策室</text></g>
<g id="kinyu-kakari"><rect class="b" x="1579" y="1807" width="125" height="21"/><text x="1641.5" y="1817.5" textLength="106">金融政策係</text></g>
<g id="sangyo-fu"><rect class="b" x="1538" y="1849" width="125" height="20"/><text x="1600.5" y="1859" textLength="100">産業経済部付</text></g>

<!-- 建設部 -->
<g id="kensetsu-bu"><rect class="b" x="1770" y="169" width="124" height="20"/><text x="1832" y="179" textLength="84">建設部</text></g>
<g id="kensetsu-kanri-ka"><rect class="b" x="1811" y="209" width="125" height="21"/><text x="1873.5" y="219.5" textLength="106">建設管理課</text></g>
<g id="kensetsu-kanri-kakari">
<rect class="b" x="1852" y="251" width="125" height="20"/><text x="1914.5" y="261" textLength="106">庶務経理係</text>
<rect class="b" x="1852" y="271" width="125" height="20"/><text x="1914.5" y="281" textLength="90">管理係</text>
<rect class="b" x="1852" y="291" width="125" height="20"/><text x="1914.5" y="301" textLength="90">住宅係</text>
</g>
<g id="shiei-jutaku"><rect class="g" x="1852" y="331" width="125" height="21"/><text x="1914.5" y="341.5" textLength="96">市営住宅</text></g>
<g id="chiiki-keikaku-ka"><rect class="b" x="1811" y="393" width="125" height="20"/><text x="1873.5" y="403" textLength="106">地域計画課</text></g>
<g id="chiiki-keikaku-kakari">
<rect class="b" x="1852" y="435" width="125" height="20.2"/><text x="1914.5" y="445.1" textLength="106">計画調整係</text>
<rect class="b" x="1852" y="455.2" width="125" height="20.2"/><text x="1914.5" y="465.3" textLength="116">土地利用計画係</text>
<rect class="b" x="1852" y="475.4" width="125" height="20.2"/><text x="1914.5" y="485.5" textLength="106">調査計画係</text>
<rect class="b" x="1852" y="495.6" width="125" height="20.2"/><text x="1914.5" y="505.7" textLength="90">建築係</text>
<rect class="b" x="1852" y="515.8" width="125" height="20.2"/><text x="1914.5" y="525.9" textLength="106">建築指導係</text>
</g>
<g id="doboku-ka"><rect class="b" x="1811" y="556" width="125" height="21"/><text x="1873.5" y="566.5" textLength="86">土木課</text></g>
<g id="doboku-kakari">
<rect class="b" x="1852" y="598" width="125" height="20.2"/><text x="1914.5" y="608.1" textLength="90">道路係</text>
<rect class="b" x="1852" y="618.2" width="125" height="20.2"/><text x="1914.5" y="628.3" textLength="90">維持係</text>
<rect class="b" x="1852" y="638.4" width="125" height="20.2"/><text x="1914.5" y="648.5" textLength="90">河川係</text>
<rect class="b" x="1852" y="658.6" width="125" height="20.2"/><text x="1914.5" y="668.7" textLength="106">農業施設係</text>
<rect class="b" x="1852" y="678.8" width="125" height="20.2"/><text x="1914.5" y="688.9" textLength="106">公園緑地係</text>
<rect class="b" x="1852" y="699" width="125" height="20.2"/><text class="f14" x="1914.5" y="709.1" textLength="116">市街地基盤整備係</text>
<rect class="b" x="1852" y="719.2" width="125" height="20.2"/><text class="f14" x="1914.5" y="729.3" textLength="116">道路事業調整担当</text>
</g>
<g id="doboku-facilities">
<rect class="g" x="1852" y="761" width="125" height="20.2"/><text x="1914.5" y="771.1" textLength="100">都市公園</text>
<rect class="g" x="1852" y="781.2" width="125" height="20.2"/><text class="f14" x="1914.5" y="791.3" textLength="116">飯田駅多目的広場</text>
<rect class="g" x="1852" y="801.4" width="125" height="20.2"/><text x="1914.5" y="811.5" textLength="90">動物園</text>
<rect class="g" x="1852" y="821.6" width="125" height="20.2"/><text x="1914.5" y="831.7" textLength="100">農村公園</text>
<rect class="g" x="1852" y="841.8" width="125" height="20.2"/><text x="1914.5" y="851.9" textLength="116">子どもの森公園</text>
</g>
<g id="kokken-ka"><rect class="b" x="1811" y="903" width="125" height="21"/><text x="1873.5" y="913.5" textLength="114">国県関連事業課</text></g>
<g id="kokken-kakari">
<rect class="b" x="1852" y="947" width="125" height="20.3"/><text x="1914.5" y="957.1" textLength="106">庶務経理係</text>
<rect class="b" x="1852" y="967.3" width="125" height="20.3"/><text x="1914.5" y="977.4" textLength="90">業務係</text>
<rect class="b" x="1852" y="987.6" width="125" height="20.3"/><text x="1914.5" y="997.7" textLength="90">調整係</text>
</g>
<g id="kensetsu-fu"><rect class="b" x="1811" y="1028" width="125" height="21"/><text x="1873.5" y="1038.5" textLength="104">建設部付</text></g>

<!-- 市立病院 -->
<g id="hospital"><rect class="b" x="2043" y="168" width="124" height="21"/><text x="2105" y="178.5" textLength="100">市立病院</text></g>
<g id="h-keiei-bu"><rect class="b" x="2084" y="209" width="125" height="22"/><text x="2146.5" y="220" textLength="108">経営企画部</text></g>
<g id="h-shinryo-bu"><rect class="b" x="2084" y="250" width="125" height="22"/><text x="2146.5" y="261" textLength="86">診療部</text></g>
<g id="h-shinryo-list-1">
<rect class="b" x="2126" y="291" width="125" height="20.4"/><text x="2188.5" y="301.2" textLength="72">内科</text>
<rect class="b" x="2126" y="311.4" width="125" height="20.4"/><text x="2188.5" y="321.6" textLength="108">総合内科</text>
<rect class="b" x="2126" y="331.8" width="125" height="20.4"/><text x="2188.5" y="342" textLength="110">呼吸器内科</text>
<rect class="b" x="2126" y="352.2" width="125" height="20.4"/><text x="2188.5" y="362.4" textLength="110">消化器内科</text>
<rect class="b" x="2126" y="372.6" width="125" height="20.4"/><text x="2188.5" y="382.8" textLength="110">循環器内科</text>
<rect class="b" x="2126" y="393" width="125" height="20.4"/><text x="2188.5" y="403.2" textLength="114">心臓血管内科</text>
<rect class="b" x="2126" y="413.4" width="125" height="20.4"/><text x="2188.5" y="423.6" textLength="108">腎臓内科</text>
<rect class="b" x="2126" y="433.8" width="125" height="20.4"/><text x="2188.5" y="444" textLength="110">脳神経内科</text>
<rect class="b" x="2126" y="454.2" width="125" height="20.4"/><text x="2188.5" y="464.4" textLength="110">内分泌内科</text>
<rect class="b" x="2126" y="474.6" width="125" height="20.4"/><text x="2188.5" y="484.8" textLength="116">糖尿病代謝内科</text>
<rect class="b" x="2126" y="495" width="125" height="20.4"/><text x="2188.5" y="505.2" textLength="72">外科</text>
<rect class="b" x="2126" y="515.4" width="125" height="20.4"/><text x="2188.5" y="525.6" textLength="110">呼吸器外科</text>
<rect class="b" x="2126" y="535.8" width="125" height="20.4"/><text x="2188.5" y="546" textLength="110">消化器外科</text>
<rect class="b" x="2126" y="556.2" width="125" height="20.4"/><text x="2188.5" y="566.4" textLength="114">心臓血管外科</text>
<rect class="b" x="2126" y="576.6" width="125" height="20.4"/><text x="2188.5" y="586.8" textLength="110">脳神経外科</text>
<rect class="b" x="2126" y="597" width="125" height="20.4"/><text x="2188.5" y="607.2" textLength="116">脳血管内治療科</text>
<rect class="b" x="2126" y="617.4" width="125" height="20.4"/><text x="2188.5" y="627.6" textLength="116">乳腺内分泌外科</text>
<rect class="b" x="2126" y="637.8" width="125" height="20.4"/><text x="2188.5" y="648" textLength="108">整形外科</text>
</g>
<g id="h-shinryo-list-2">
<rect class="b" x="2357" y="496" width="125" height="20.4"/><text x="2419.5" y="506.2" textLength="108">形成外科</text>
<rect class="b" x="2357" y="516.4" width="125" height="20.4"/><text x="2419.5" y="526.6" textLength="110">リウマチ科</text>
<rect class="b" x="2357" y="536.8" width="125" height="20.4"/><text x="2419.5" y="547" textLength="96">小児科</text>
<rect class="b" x="2357" y="557.2" width="125" height="20.4"/><text x="2419.5" y="567.4" textLength="108">新生児科</text>
<rect class="b" x="2357" y="577.6" width="125" height="20.4"/><text x="2419.5" y="587.8" textLength="96">皮膚科</text>
<rect class="b" x="2357" y="598" width="125" height="20.4"/><text x="2419.5" y="608.2" textLength="108">泌尿器科</text>
<rect class="b" x="2357" y="618.4" width="125" height="20.4"/><text x="2419.5" y="628.6" textLength="72">産科</text>
<rect class="b" x="2357" y="638.8" width="125" height="20.4"/><text x="2419.5" y="649" textLength="96">婦人科</text>
<rect class="b" x="2357" y="659.2" width="125" height="20.4"/><text x="2419.5" y="669.4" textLength="72">眼科</text>
<rect class="b" x="2357" y="679.6" width="125" height="20.4"/><text x="2419.5" y="689.8" textLength="116">耳鼻いんこう科</text>
<rect class="b" x="2357" y="700" width="125" height="20.4"/><text class="f10" x="2419.5" y="710.2" textLength="116">リハビリテーション科</text>
<rect class="b" x="2357" y="720.4" width="125" height="20.4"/><text x="2419.5" y="730.6" textLength="114">放射線診断科</text>
<rect class="b" x="2357" y="740.8" width="125" height="20.4"/><text x="2419.5" y="751" textLength="114">放射線治療科</text>
<rect class="b" x="2357" y="761.2" width="125" height="20.4"/><text x="2419.5" y="771.4" textLength="110">病理診断科</text>
<rect class="b" x="2357" y="781.6" width="125" height="20.4"/><text x="2419.5" y="791.8" textLength="110">臨床検査科</text>
<rect class="b" x="2357" y="802" width="125" height="20.4"/><text x="2419.5" y="812.2" textLength="96">救急科</text>
<rect class="b" x="2357" y="822.4" width="125" height="20.4"/><text x="2419.5" y="832.6" textLength="72">歯科</text>
<rect class="b" x="2357" y="842.8" width="125" height="20.4"/><text x="2419.5" y="853" textLength="114">歯科口腔外科</text>
<rect class="b" x="2357" y="863.2" width="125" height="20.4"/><text x="2419.5" y="873.4" textLength="96">麻酔科</text>
<rect class="b" x="2357" y="883.6" width="125" height="20.4"/><text class="f13" x="2419.5" y="893.8" style="font-family:'Liberation Serif',serif">ICU</text>
<rect class="b" x="2357" y="904" width="125" height="20.4"/><text class="f13" x="2419.5" y="914.2" style="font-family:'Liberation Serif',serif">NICU</text>
<rect class="b" x="2357" y="924.4" width="125" height="20.4"/><text x="2419.5" y="934.6" textLength="110">腎センター</text>
<rect class="b" x="2357" y="944.8" width="125" height="20.4"/><text x="2419.5" y="955" textLength="96">手術室</text>
</g>
<g id="h-gijutsu-bu"><rect class="b" x="2084" y="681" width="125" height="21"/><text x="2146.5" y="691.5" textLength="108">診療技術部</text></g>
<g id="h-gijutsu-list">
<rect class="b" x="2126" y="722" width="125" height="20.4"/><text x="2188.5" y="732.2" textLength="96">薬剤科</text>
<rect class="b" x="2126" y="742.4" width="125" height="20.4"/><text x="2188.5" y="752.6" textLength="104">放射線科</text>
<rect class="b" x="2126" y="762.8" width="125" height="20.4"/><text x="2188.5" y="773" textLength="110">臨床検査科</text>
<rect class="b" x="2126" y="783.2" width="125" height="20.4"/><text x="2188.5" y="793.4" textLength="114">ﾘﾊﾋﾞﾘﾃｰｼｮﾝ科</text>
<rect class="b" x="2126" y="803.6" width="125" height="20.4"/><text x="2188.5" y="813.8" textLength="96">食養科</text>
</g>
<g id="h-kango-bu"><rect class="b" x="2084" y="845" width="125" height="21"/><text x="2146.5" y="855.5" textLength="86">看護部</text></g>
<g id="h-kango-list-1">
<rect class="b" x="2126" y="886" width="125" height="20.4"/><text x="2188.5" y="896.2" textLength="72">外来</text>
<rect class="b" x="2126" y="906.4" width="125" height="20.4"/><text x="2188.5" y="916.6" textLength="112">3階西病棟</text>
<rect class="b" x="2126" y="926.8" width="125" height="20.4"/><text x="2188.5" y="937" textLength="112">3階東病棟</text>
<rect class="b" x="2126" y="947.2" width="125" height="20.4"/><text x="2188.5" y="957.4" textLength="112">4階西病棟</text>
<rect class="b" x="2126" y="967.6" width="125" height="20.4"/><text class="f14" x="2188.5" y="977.8" textLength="112" style="font-family:'Liberation Serif',serif">NICU</text>
<rect class="b" x="2126" y="988" width="125" height="20.4"/><text x="2188.5" y="998.2" textLength="112">4階東病棟</text>
<rect class="b" x="2126" y="1008.4" width="125" height="20.4"/><text x="2188.5" y="1018.6" textLength="112">5階西病棟</text>
<rect class="b" x="2126" y="1028.8" width="125" height="20.4"/><text x="2188.5" y="1039" textLength="112">5階東病棟</text>
</g>
<g id="h-kango-list-2">
<rect class="b" x="2357" y="1009" width="125" height="20.4"/><text x="2419.5" y="1019.2" textLength="112">6階西病棟</text>
<rect class="b" x="2357" y="1029.4" width="125" height="20.4"/><text x="2419.5" y="1039.6" textLength="112">6階東病棟</text>
<rect class="b" x="2357" y="1049.8" width="125" height="20.4"/><text class="f14" x="2419.5" y="1060" textLength="104" style="font-family:'Liberation Serif',serif">ICU</text>
<rect class="b" x="2357" y="1070.2" width="125" height="20.4"/><text x="2419.5" y="1080.4" textLength="112">腎センター</text>
<rect class="b" x="2357" y="1090.6" width="125" height="20.4"/><text x="2419.5" y="1100.8" textLength="96">手術室</text>
<rect class="b" x="2357" y="1111" width="125" height="20.4"/><text x="2419.5" y="1121.2" textLength="112">中央材料室</text>
<rect class="b" x="2357" y="1131.4" width="125" height="20.4"/><text x="2419.5" y="1141.6" textLength="96">ME室</text>
<rect class="b" x="2357" y="1151.8" width="125" height="20.4"/><text x="2419.5" y="1162" textLength="112">看護部付</text>
</g>
<g id="h-centers">
<rect class="b" x="2126" y="1070" width="125" height="20.5"/><text class="f14" x="2188.5" y="1080.2" textLength="112">救命救急センター</text>
<rect class="b" x="2126" y="1090.5" width="125" height="20.5"/><text x="2188.5" y="1100.7" textLength="114">周産期センター</text>
<rect class="b" x="2126" y="1111" width="125" height="20.5"/><text class="f13" x="2188.5" y="1121.2" textLength="110">臨床研修センター</text>
</g>
<g id="h-chiiki-bu"><rect class="b" x="2084" y="1172" width="125" height="20"/><text x="2146.5" y="1182" textLength="108">地域医療部</text></g>
<g id="h-chiiki-list">
<rect class="b" x="2126" y="1214" width="166" height="20.4"/><text x="2209" y="1224.2" textLength="134">医療福祉係</text>
<rect class="b" x="2126" y="1234.4" width="166" height="20.4"/><text x="2209" y="1244.6" textLength="144">人間ドック室</text>
<rect class="b" x="2126" y="1254.8" width="166" height="20.4"/><text x="2209" y="1265" textLength="152">在宅介護支援センター</text>
<rect class="b" x="2126" y="1275.2" width="166" height="20.4"/><text x="2209" y="1285.4" textLength="152">訪問看護ステーション</text>
<rect class="b" x="2126" y="1295.6" width="166" height="20.4"/><text x="2209" y="1305.8" textLength="146">地域医療連携係</text>
</g>
<g id="h-joho-bu"><rect class="b" x="2084" y="1337" width="125" height="20"/><text x="2146.5" y="1347" textLength="106">医療情報部</text></g>
<g id="h-joho-list">
<rect class="b" x="2126" y="1377" width="125" height="20.5"/><text x="2188.5" y="1387.2" textLength="110">情報管理係</text>
<rect class="b" x="2126" y="1397.5" width="125" height="20.5"/><text x="2188.5" y="1407.7" textLength="114">中央病歴管理室</text>
</g>
<g id="h-anzen-bu"><rect class="b" x="2084" y="1439" width="125" height="20"/><text x="2146.5" y="1449" textLength="106">医療安全部</text></g>
<g id="h-anzen-list">
<rect class="b" x="2126" y="1480" width="125" height="20.5"/><text x="2188.5" y="1490.2" textLength="114">医療安全管理室</text>
<rect class="b" x="2126" y="1500.5" width="125" height="20.5"/><text x="2188.5" y="1510.7" textLength="108">感染管理室</text>
</g>
<g id="h-jimukyoku"><rect class="b" x="2084" y="1541" width="125" height="21"/><text x="2146.5" y="1551.5" textLength="86">事務局</text></g>
<g id="h-keiei-ka"><rect class="b" x="2126" y="1582" width="125" height="21"/><text x="2188.5" y="1592.5" textLength="106">経営企画課</text></g>
<g id="h-keiei-kakari">
<rect class="b" x="2167" y="1623" width="125" height="20.5"/><text x="2229.5" y="1633.2" textLength="106">経営企画係</text>
<rect class="b" x="2167" y="1643.5" width="125" height="20.5"/><text x="2229.5" y="1653.7" textLength="86">経理係</text>
</g>
<g id="h-shomu-ka"><rect class="b" x="2126" y="1684" width="125" height="20"/><text x="2188.5" y="1694" textLength="86">庶務課</text></g>
<g id="h-shomu-kakari">
<rect class="b" x="2167" y="1726" width="125" height="20"/><text x="2229.5" y="1736" textLength="86">庶務係</text>
<rect class="b" x="2167" y="1746" width="125" height="20"/><text x="2229.5" y="1756" textLength="86">人事係</text>
</g>
<g id="h-shisetsu-ka"><rect class="b" x="2126" y="1788" width="125" height="20"/><text x="2188.5" y="1798" textLength="86">施設課</text></g>
<g id="h-shisetsu-kakari">
<rect class="b" x="2167" y="1828" width="125" height="20.5"/><text x="2229.5" y="1838.2" textLength="86">施設係</text>
<rect class="b" x="2167" y="1848.5" width="125" height="20.5"/><text x="2229.5" y="1858.7" textLength="86">用度係</text>
</g>
<g id="h-iji-ka"><rect class="b" x="2126" y="1889" width="125" height="21"/><text x="2188.5" y="1899.5" textLength="86">医事課</text></g>
<g id="h-iji-kakari">
<rect class="b" x="2167" y="1930" width="125" height="20.5"/><text x="2229.5" y="1940.2" textLength="106">医事企画係</text>
<rect class="b" x="2167" y="1950.5" width="125" height="20.5"/><text x="2229.5" y="1960.7" textLength="86">外来係</text>
<rect class="b" x="2167" y="1971" width="125" height="20.5"/><text x="2229.5" y="1981.2" textLength="86">入院係</text>
<rect class="b" x="2167" y="1991.5" width="125" height="20.5"/><text x="2229.5" y="2001.7" textLength="106">医療支援係</text>
</g>

<!-- 市長公室 -->
<g id="mayor-office"><rect class="b" x="2315" y="168" width="126" height="21"/><text x="2378" y="178.5" textLength="96">市長公室</text></g>
<g id="hisho-shitsu"><rect class="b" x="2357" y="209" width="125" height="22"/><text x="2419.5" y="220" textLength="86">秘書室</text></g>
<g id="hisho-kakari"><rect class="b" x="2399" y="250" width="125" height="22"/><text x="2461.5" y="261" textLength="86">秘書係</text></g>
<g id="koho-ka"><rect class="b" x="2357" y="311" width="125" height="22"/><text class="f14" x="2419.5" y="322" textLength="114">広報・情報推進課</text></g>
<g id="koho-kakari">
<rect class="b" x="2399" y="352" width="125" height="20.5"/><text x="2461.5" y="362.2" textLength="108">広報広聴係</text>
<rect class="b" x="2399" y="372.5" width="125" height="20.5"/><text x="2461.5" y="382.7" textLength="114">情報システム係</text>
<rect class="b" x="2399" y="393" width="125" height="20.5"/><text x="2461.5" y="403.2" textLength="114">情報基盤整備係</text>
</g>

<!-- 危機管理 -->
<g id="kiki-shitsu"><rect class="b" x="2590" y="168" width="166" height="21"/><text class="f11" x="2673" y="178.5" textLength="150">危機管理・交通安全対策室</text></g>
<g id="kiki-kakari">
<rect class="b" x="2672" y="248" width="123" height="20.4"/><text x="2733.5" y="258.2" textLength="100">地域安全主幹</text>
<rect class="b" x="2672" y="268.4" width="123" height="20.4"/><text x="2733.5" y="278.6" textLength="100">危機管理係</text>
<rect class="b" x="2672" y="288.8" width="123" height="20.4"/><text x="2733.5" y="299" textLength="84">防災係</text>
<rect class="b" x="2672" y="309.2" width="123" height="20.4"/><text x="2733.5" y="319.4" textLength="100">交通安全係</text>
<rect class="b" x="2672" y="329.6" width="123" height="20.4"/><text x="2733.5" y="339.8" textLength="100">消防団係</text>
</g>
<g id="kiki-facilities">
<rect class="g" x="2672" y="373" width="123" height="20.5"/><text class="f13" x="2733.5" y="383.2" textLength="90">中央駐車場</text>
<rect class="g" x="2672" y="393.5" width="123" height="20.5"/><text class="f13" x="2733.5" y="403.7" textLength="104">飯田駅西駐車場</text>
<rect class="g" x="2672" y="414" width="123" height="20.5"/><text class="f13" x="2733.5" y="424.2" textLength="100">飯田駅駐車場</text>
<rect class="g" x="2672" y="434.5" width="123" height="20.5"/><text class="f13" x="2733.5" y="444.7" textLength="90">本町駐車場</text>
<rect class="g" x="2672" y="455" width="123" height="20.5"/><text class="f13" x="2733.5" y="465.2" textLength="90">扇町駐車場</text>
<rect class="g" x="2672" y="475.5" width="123" height="20.5"/><text class="f9" x="2733.5" y="485.7" textLength="112">コミュニティ防災センター</text>
</g>
<g id="boryoku-shitsu"><rect class="b" x="2629" y="516" width="166" height="21"/><text x="2712" y="526.5" textLength="110">暴力追放対策室</text></g>
<g id="boryoku-kakari"><rect class="b" x="2672" y="557" width="123" height="21"/><text x="2733.5" y="567.5" textLength="100">暴力追放係</text></g>

<!-- 会計 -->
<g id="kaikei-kanrisha"><rect class="b" x="2854" y="168" width="131" height="21"/><text x="2919.5" y="178.5" textLength="106">会計管理者</text></g>
<g id="kaikei-ka"><rect class="b" x="2889" y="209" width="123" height="21"/><text x="2950.5" y="219.5" textLength="86">会計課</text></g>
<g id="kaikei-kakari">
<rect class="b" x="2932" y="248" width="98" height="20.4"/><text x="2981" y="258.2" textLength="76">審査係</text>
<rect class="b" x="2932" y="268.4" width="98" height="20.4"/><text x="2981" y="278.6" textLength="76">出納係</text>
</g>

<!-- 高松診療所 -->
<g id="takamatsu"><rect class="b" x="2590" y="782" width="127" height="21"/><text x="2653.5" y="792.5" textLength="100">高松診療所</text></g>
<g id="roken"><rect class="b" x="2590" y="823" width="205" height="21"/><text x="2692.5" y="833.5" textLength="150">介護老人保健施設</text></g>
<g id="roken-kakari">
<rect class="b" x="2629" y="864" width="166" height="20.5"/><text x="2712" y="874.2" textLength="100">管理係</text>
<rect class="b" x="2629" y="884.5" width="166" height="20.5"/><text x="2712" y="894.7" textLength="100">看護係</text>
<rect class="b" x="2629" y="905" width="166" height="20.5"/><text x="2712" y="915.2" textLength="100">介護係</text>
<rect class="b" x="2629" y="925.5" width="166" height="20.5"/><text class="f13" x="2712" y="935.7" textLength="130">リハビリテーション係</text>
<rect class="b" x="2629" y="946" width="166" height="20.5"/><text x="2712" y="956.2" textLength="110">栄養管理係</text>
<rect class="b" x="2629" y="966.5" width="166" height="20.5"/><text class="f11" x="2712" y="976.7" textLength="140">上郷在宅介護支援センター</text>
</g>
</svg>
